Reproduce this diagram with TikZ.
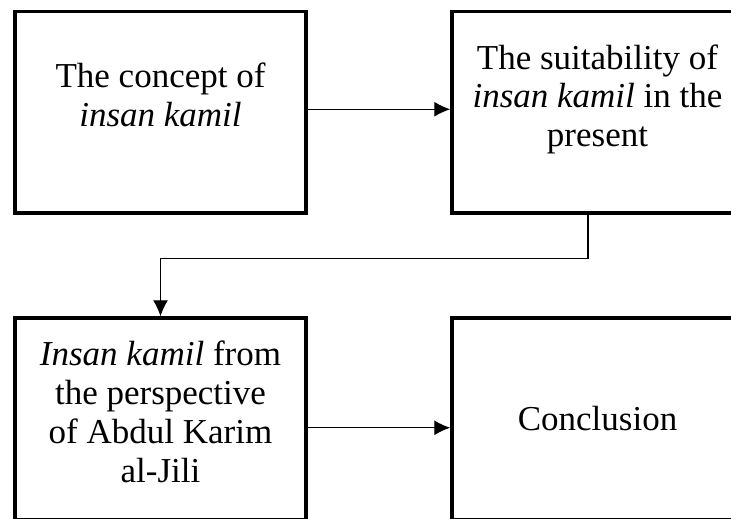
\documentclass[tikz,border=0pt]{standalone}
\usepackage{fontspec}
\setmainfont{Liberation Serif}
\usetikzlibrary{positioning,arrows.meta}

\tikzset{
  stage/.style={draw,line width=1.75pt,minimum width=145.5pt,minimum height=100.75pt,inner sep=0pt},
  txt/.style={align=center,inner sep=0pt,font=\fontsize{17.5pt}{19.4pt}\selectfont},
  flow/.style={line width=0.6pt,-{Latex[length=8pt,width=7.5pt]}}
}

\begin{document}
\begin{tikzpicture}[x=0.5pt,y=0.5pt]
        \useasboundingbox (0,0) rectangle (731,-518);
        % boxes
        \node[stage] at (160.5,-112.25) (concept) {};
        \node[stage,right=71.25pt of concept] (suit) {};
        \node[stage,below=50.75pt of concept] (jili) {};
        \node[stage,below=50.75pt of suit] (concl) {};
        % texts
        \node[txt] at ([yshift=8.5pt]concept.center) (concepttext) {The concept of\\ \textit{insan kamil}};
        \node[txt] at ([yshift=6.5pt]suit.center) (suittext) {The suitability of\\ \textit{insan kamil} in the\\ present};
        \node[txt] at ([yshift=3.5pt]jili.center) (jilitext) {\textit{Insan kamil} from\\ the perspective\\ of Abdul Karim\\ al-Jili};
        \node[txt] at (concl.center) (concltext) {Conclusion};
        % arrows
        \draw[flow] ([yshift=1.5pt]concept.east) -- ([yshift=1.5pt]suit.west);
        \draw[flow] ([yshift=-4.5pt]jili.east) -- ([yshift=-4.5pt]concl.west);
        \draw[flow] ([xshift=-4.75pt]suit.south) -- ++(0,-44) -| (jili.north);
      \end{tikzpicture}
\end{document}
